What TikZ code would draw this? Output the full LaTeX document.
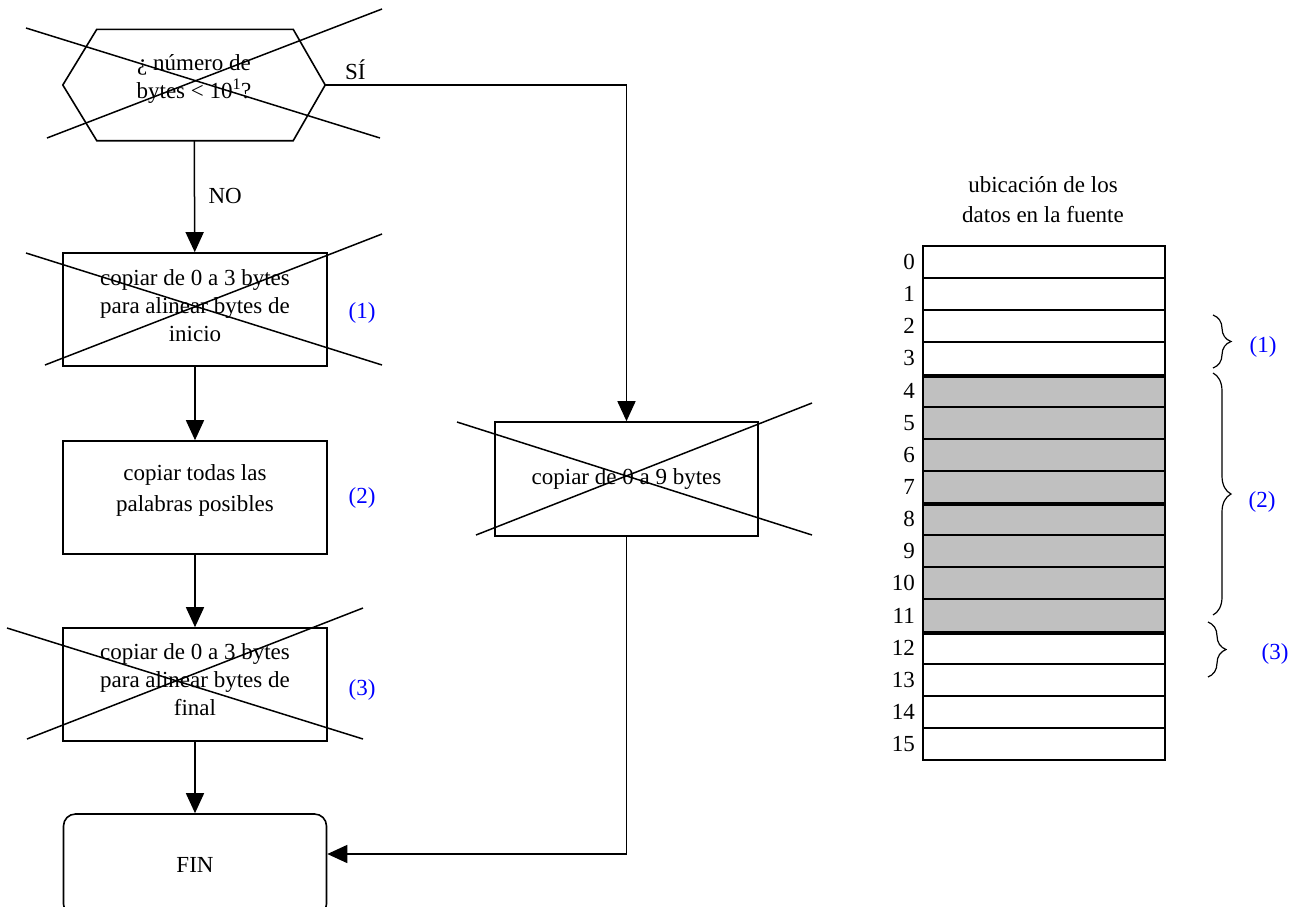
\documentclass[tikz,border=0pt]{standalone}
\usepackage{fontspec}
\setmainfont{Liberation Serif}
\usetikzlibrary{arrows.meta,decorations.pathreplacing}

\definecolor{celda}{HTML}{C0C0C0}

\tikzset{
  box/.style={draw, line width=1.6pt, minimum width=264pt, minimum height=113pt, inner sep=0pt},
  txt/.style={align=center, inner sep=0pt},
  flow/.style={line width=1.5pt, -{Triangle[length=20pt,width=18pt]}},
  cross/.style={line width=1.5pt},
  tag/.style={text=blue},
  cell/.style={draw, line width=2pt, minimum width=242pt, minimum height=32.125pt, inner sep=0pt},
  grupo/.style={decorate, decoration={brace, amplitude=18pt}, line width=1.2pt},
}

\begin{document}
\begin{tikzpicture}[x=1pt, y=-1pt, font=\fontsize{23}{28}\selectfont]
\useasboundingbox (0,0) rectangle (1304,906);

% diagrama de flujo
\node[minimum width=262pt, minimum height=111pt, inner sep=0pt,
  label={[txt, yshift=6pt]center:{¿ número de\\bytes < 10\textsuperscript{1}?}}] (cond) at (194,85) {};
\draw[line width=1.6pt] ([xshift=34pt]cond.north west) -- ([xshift=-32pt]cond.north east) -- (cond.east)
  -- ([xshift=-32pt]cond.south east) -- ([xshift=34pt]cond.south west) -- (cond.west) -- cycle;
\draw[cross] (26,28) -- (380,138);
\draw[cross] (47,138) -- (382,9);

\node[box, label={[txt, yshift=4pt]center:{copiar de 0 a 3 bytes\\para alinear bytes de\\inicio}}] (box1) at (195,309.5) {};
\draw[cross] (26,253) -- (382,365);
\draw[cross] (45,365) -- (382,234);

\node[box, label={[txt, yshift=7pt, font=\fontsize{23}{31}\selectfont]center:{copiar todas las\\palabras posibles}}] (box2) at (195,497.5) {};

\node[box, label={[txt, yshift=5pt]center:{copiar de 0 a 3 bytes\\para alinear bytes de\\final}}] (box3) at (195,684.5) {};
\draw[cross] (7,628) -- (363,739);
\draw[cross] (27,739) -- (363,608);

\node[box, minimum width=263pt, minimum height=114pt] (box09) at (626.5,479) {copiar de 0 a 9 bytes};
\draw[cross] (457,422) -- (812,535);
\draw[cross] (476,535) -- (812,403);

\node[box, minimum width=263pt, minimum height=102pt, rounded corners=12pt] (fin) at (195,865) {FIN};

\node[tag] (t1) at (362,313) {(1)};
\node[tag] (t2) at (362,498) {(2)};
\node[tag] (t3) at (362,690) {(3)};

\draw[flow] (cond) -- node[right=10pt] {NO} (box1);
\draw[flow] (box1) -- (box2);
\draw[flow] (box2) -- (box3);
\draw[flow] (box3) -- (fin);
\draw[flow] (cond.east) -| node[pos=0.05, above=1pt] {SÍ} (box09.north);
\draw[flow] (box09.south) |- ([yshift=11pt]fin.east);

% memoria
\node[txt, font=\fontsize{23}{30}\selectfont] (titulo) at (1043,200) {ubicación de los\\datos en la fuente};
\foreach \i in {0,1,2,3,12,13,14,15}
  \node[cell, fill=white] (r\i) at (1044,{246+32.125*(\i+0.5)}) {};
\foreach \i in {4,...,11}
  \node[cell, fill=celda] (r\i) at (1044,{246+32.125*(\i+0.5)}) {};
\foreach \i in {0,...,15}
  \node[anchor=east, inner sep=0pt] (n\i) at ([xshift=-7pt]r\i.west) {\i};
\foreach \i in {3,7,11}
  \draw[line width=4pt] (r\i.south west) -- (r\i.south east);

\draw[grupo] (1213,315) -- (1213,368);
\draw[grupo] (1213,373) -- (1213,615);
\draw[grupo] (1208,622) -- (1208,677);
\node[tag] (g1) at (1263,347) {(1)};
\node[tag] (g2) at (1262,502) {(2)};
\node[tag] (g3) at (1275,654) {(3)};
\end{tikzpicture}
\end{document}
